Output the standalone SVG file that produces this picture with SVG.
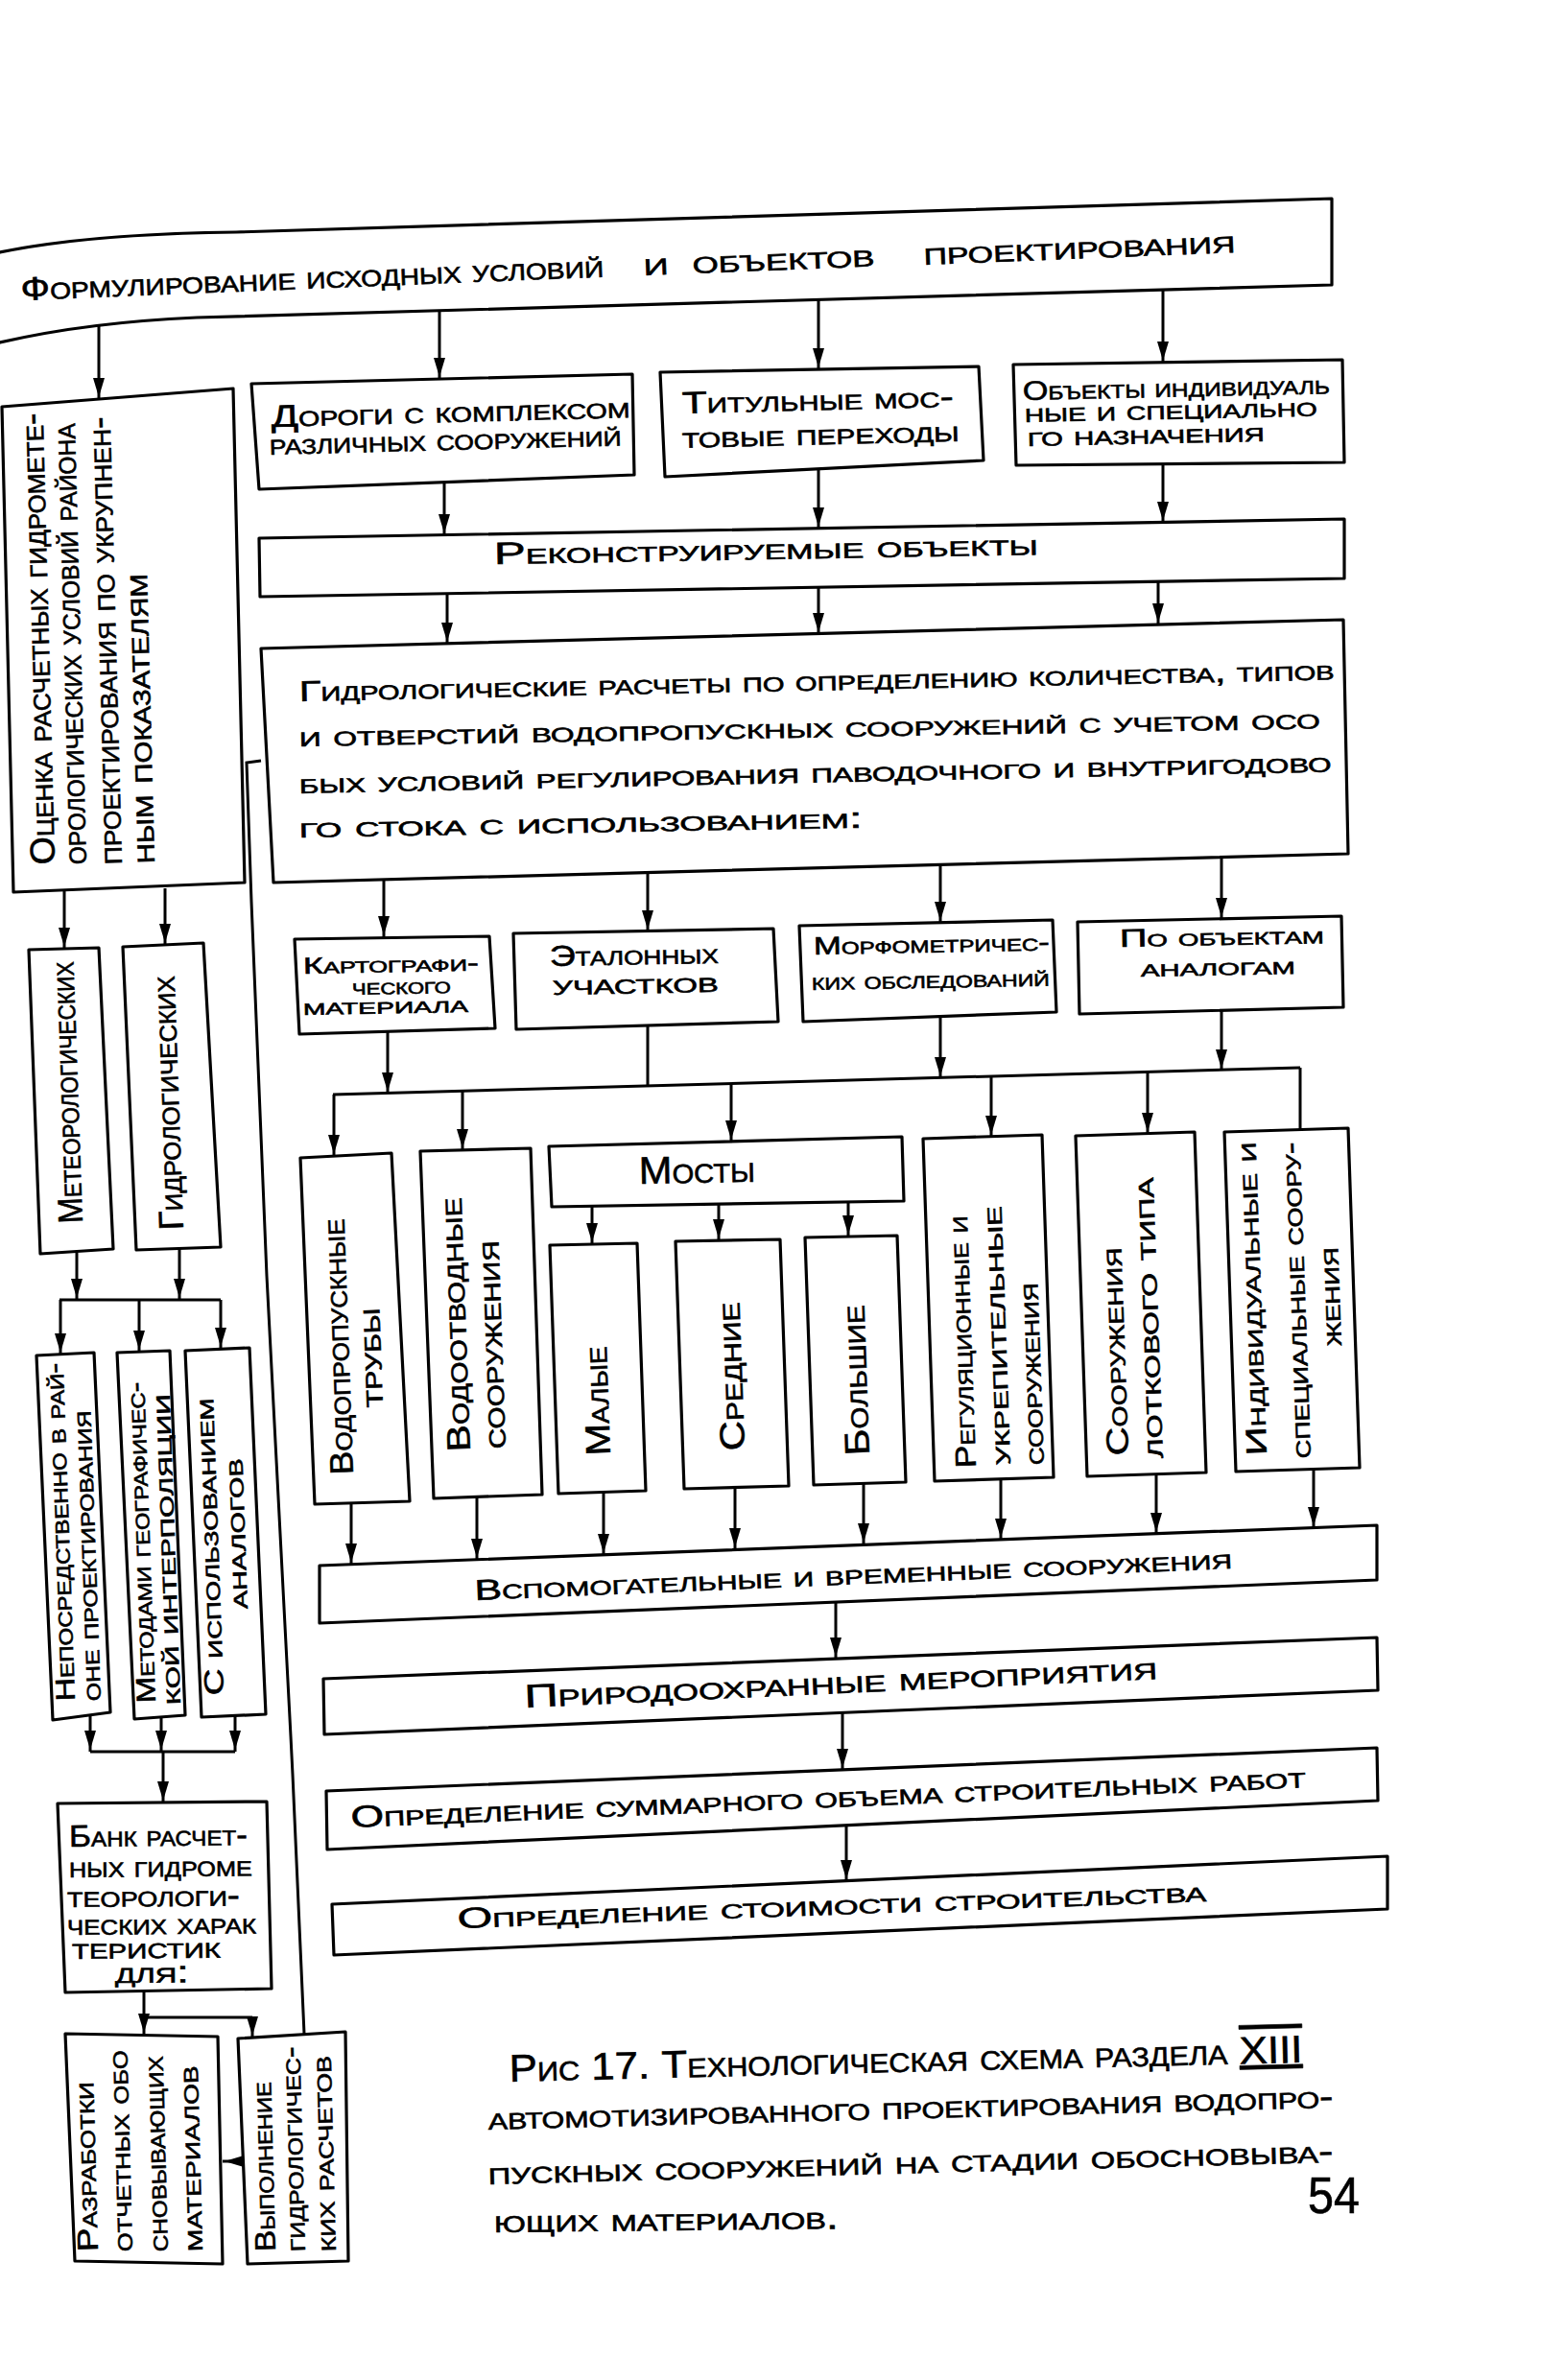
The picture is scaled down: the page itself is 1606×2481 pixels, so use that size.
<svg xmlns="http://www.w3.org/2000/svg" width="1606" height="2481" viewBox="0 0 1606 2481">
<style>
.b{fill:#fff;stroke:#000;stroke-width:3.2;stroke-linejoin:round}
.c{fill:none;stroke:#000;stroke-width:3}
.a{marker-end:url(#ah)}
text{font-family:"Liberation Sans",Arial,sans-serif;font-variant:small-caps;fill:#000;stroke:#000;stroke-width:0.6}
</style>
<defs>
<marker id="ah" viewBox="0 0 20 12" refX="22" refY="6" markerWidth="20" markerHeight="12" markerUnits="userSpaceOnUse" orient="auto"><path d="M0,0 L20,6 L0,12 Z" fill="#000"/></marker>
</defs>
<rect width="1606" height="2481" fill="#fff"/>

<g id="connectors">
<line class="c a" x1="103" y1="340" x2="103" y2="416"/>
<line class="c a" x1="458" y1="324" x2="458" y2="395"/>
<line class="c a" x1="853" y1="312" x2="853" y2="385"/>
<line class="c a" x1="1212" y1="302" x2="1212" y2="378"/>
<line class="c a" x1="463" y1="503" x2="463" y2="558"/>
<line class="c a" x1="853" y1="489" x2="853" y2="551"/>
<line class="c a" x1="1212" y1="483" x2="1212" y2="545"/>
<line class="c a" x1="466" y1="619" x2="466" y2="671"/>
<line class="c a" x1="853" y1="612" x2="853" y2="661"/>
<line class="c a" x1="1207" y1="606" x2="1207" y2="651"/>
<line class="c a" x1="400" y1="917" x2="400" y2="977"/>
<line class="c a" x1="675" y1="910" x2="675" y2="971"/>
<line class="c a" x1="980" y1="901" x2="980" y2="962"/>
<line class="c a" x1="1273" y1="894" x2="1273" y2="958"/>
<line class="c a" x1="404" y1="1075" x2="404" y2="1140"/>
<line class="c" x1="675" y1="1070" x2="675" y2="1132"/>
<line class="c a" x1="980" y1="1061" x2="980" y2="1124"/>
<line class="c a" x1="1273" y1="1054" x2="1273" y2="1116"/>
<line class="c" x1="347" y1="1141" x2="1355" y2="1113"/>
<line class="c a" x1="348" y1="1141" x2="348" y2="1205"/>
<line class="c a" x1="482" y1="1137" x2="482" y2="1199"/>
<line class="c a" x1="762" y1="1129" x2="762" y2="1190"/>
<line class="c a" x1="1033" y1="1122" x2="1033" y2="1185"/>
<line class="c a" x1="1196" y1="1117" x2="1196" y2="1182"/>
<line class="c" x1="1355" y1="1113" x2="1355" y2="1178"/>
<line class="c a" x1="617" y1="1257" x2="617" y2="1297"/>
<line class="c a" x1="749" y1="1255" x2="749" y2="1293"/>
<line class="c a" x1="884" y1="1253" x2="884" y2="1289"/>
<line class="c a" x1="366" y1="1567" x2="366" y2="1631"/>
<line class="c a" x1="497" y1="1560" x2="497" y2="1626"/>
<line class="c a" x1="629" y1="1555" x2="629" y2="1621"/>
<line class="c a" x1="766" y1="1550" x2="766" y2="1615"/>
<line class="c a" x1="900" y1="1546" x2="900" y2="1610"/>
<line class="c a" x1="1043" y1="1541" x2="1043" y2="1605"/>
<line class="c a" x1="1205" y1="1536" x2="1205" y2="1599"/>
<line class="c a" x1="1369" y1="1531" x2="1369" y2="1593"/>
<line class="c a" x1="871" y1="1669" x2="871" y2="1729"/>
<line class="c a" x1="878" y1="1786" x2="878" y2="1845"/>
<line class="c a" x1="882" y1="1903" x2="882" y2="1961"/>
<line class="c a" x1="67" y1="929" x2="67" y2="989"/>
<line class="c a" x1="172" y1="926" x2="172" y2="985"/>
<line class="c a" x1="80" y1="1306" x2="80" y2="1355"/>
<line class="c a" x1="187" y1="1302" x2="187" y2="1355"/>
<line class="c" x1="62" y1="1355" x2="230" y2="1355"/>
<line class="c a" x1="63" y1="1355" x2="63" y2="1412"/>
<line class="c a" x1="145" y1="1355" x2="145" y2="1409"/>
<line class="c a" x1="230" y1="1355" x2="230" y2="1406"/>
<line class="c a" x1="94" y1="1789" x2="94" y2="1826"/>
<line class="c a" x1="168" y1="1791" x2="168" y2="1826"/>
<line class="c a" x1="245" y1="1788" x2="245" y2="1826"/>
<line class="c" x1="94" y1="1826" x2="245" y2="1826"/>
<line class="c a" x1="170" y1="1826" x2="170" y2="1879"/>
<line class="c" x1="150" y1="2076" x2="150" y2="2103"/>
<line class="c" x1="150" y1="2103" x2="263" y2="2103"/>
<line class="c a" x1="150" y1="2103" x2="150" y2="2121"/>
<line class="c a" x1="263" y1="2103" x2="263" y2="2124"/>
<line class="c a" x1="250" y1="2253" x2="232" y2="2253"/>
<polyline class="c" points="272,793 257,795 262,940 278,1330 303,1810 305,1850 317,2120"/>
</g>

<g id="n-top">
<path class="b" d="M -10,266 L 0,263 Q 90,244 246,242 L 1388,207 L 1388,297 L 205,331 Q 90,336 0,357 L -10,360"/>
<text x="22" y="313" font-size="34" textLength="608" lengthAdjust="spacingAndGlyphs" transform="rotate(-2.3 22 313)">Формулирование исходных условий</text>
<text x="671" y="287" font-size="34" textLength="26" lengthAdjust="spacingAndGlyphs" transform="rotate(-2.3 671 287)">и</text>
<text x="722" y="285" font-size="34" textLength="190" lengthAdjust="spacingAndGlyphs" transform="rotate(-2.3 722 285)">объектов</text>
<text x="963" y="276" font-size="34" textLength="325" lengthAdjust="spacingAndGlyphs" transform="rotate(-2.3 963 276)">проектирования</text>
</g>

<g id="n-dorogi">
<polygon class="b" points="262,400 659,390 661,495 270,510"/>
<text x="283" y="445" font-size="32" textLength="374" lengthAdjust="spacingAndGlyphs" transform="rotate(-1.5 283 445)">Дороги с комплексом</text>
<text x="281" y="474" font-size="32" textLength="367" lengthAdjust="spacingAndGlyphs" transform="rotate(-1.5 281 474)">различных сооружений</text>
</g>

<g id="n-titul">
<polygon class="b" points="688,388 1020,382 1025,480 693,497"/>
<text x="711" y="431" font-size="32" textLength="283" lengthAdjust="spacingAndGlyphs" transform="rotate(-1.4 711 431)">Титульные мос-</text>
<text x="711" y="467" font-size="32" textLength="289" lengthAdjust="spacingAndGlyphs" transform="rotate(-1.4 711 467)">товые переходы</text>
</g>

<g id="n-obj">
<polygon class="b" points="1056,380 1399,375 1401,482 1059,485"/>
<text x="1066" y="417" font-size="28" textLength="320" lengthAdjust="spacingAndGlyphs" transform="rotate(-1.2 1066 417)">Объекты индивидуаль</text>
<text x="1068" y="440" font-size="28" textLength="305" lengthAdjust="spacingAndGlyphs" transform="rotate(-1.2 1068 440)">ные и специально</text>
<text x="1071" y="465" font-size="28" textLength="247" lengthAdjust="spacingAndGlyphs" transform="rotate(-1.2 1071 465)">го назначения</text>
</g>

<g id="n-rekon">
<polygon class="b" points="270,561 1401,541 1401,603 271,622"/>
<text x="515" y="588" font-size="32" textLength="567" lengthAdjust="spacingAndGlyphs" transform="rotate(-1 515 588)">Реконструируемые  объекты</text>
</g>

<g id="n-gidro">
<polygon class="b" points="272,676 1400,646 1405,890 285,920"/>
<text x="312" y="731" font-size="30" textLength="1079" lengthAdjust="spacingAndGlyphs" transform="rotate(-1.2 312 731)">Гидрологические расчеты по определению количества, типов</text>
<text x="312" y="778" font-size="30" textLength="1064" lengthAdjust="spacingAndGlyphs" transform="rotate(-1 312 778)">и отверстий водопропускных сооружений с учетом осо</text>
<text x="312" y="827" font-size="30" textLength="1076" lengthAdjust="spacingAndGlyphs" transform="rotate(-1.2 312 827)">бых условий регулирования паводочного и внутригодово</text>
<text x="312" y="873" font-size="30" textLength="587" lengthAdjust="spacingAndGlyphs" transform="rotate(-1 312 873)">го стока с использованием:</text>
</g>

<g id="n-karto">
<polygon class="b" points="307,979 510,976 516,1072 312,1078"/>
<text x="316" y="1015" font-size="24" textLength="183" lengthAdjust="spacingAndGlyphs" transform="rotate(-1 316 1015)">Картографи-</text>
<text x="367" y="1037" font-size="24" textLength="103" lengthAdjust="spacingAndGlyphs" transform="rotate(-1 367 1037)">ческого</text>
<text x="316" y="1058" font-size="24" textLength="172" lengthAdjust="spacingAndGlyphs" transform="rotate(-1 316 1058)">материала</text>
</g>

<g id="n-etal">
<polygon class="b" points="535,973 806,968 811,1065 538,1073"/>
<text x="573" y="1007" font-size="30" textLength="176" lengthAdjust="spacingAndGlyphs" transform="rotate(-1 573 1007)">Эталонных</text>
<text x="576" y="1037" font-size="30" textLength="173" lengthAdjust="spacingAndGlyphs" transform="rotate(-1 576 1037)">участков</text>
</g>

<g id="n-morfo">
<polygon class="b" points="833,965 1097,959 1101,1055 837,1065"/>
<text x="848" y="995" font-size="26" textLength="246" lengthAdjust="spacingAndGlyphs" transform="rotate(-1 848 995)">Морфометричес-</text>
<text x="846" y="1032" font-size="26" textLength="248" lengthAdjust="spacingAndGlyphs" transform="rotate(-1 846 1032)">ких обследований</text>
</g>

<g id="n-analog">
<polygon class="b" points="1123,961 1398,955 1400,1050 1125,1057"/>
<text x="1167" y="987" font-size="26" textLength="213" lengthAdjust="spacingAndGlyphs" transform="rotate(-1 1167 987)">По объектам</text>
<text x="1189" y="1018" font-size="26" textLength="161" lengthAdjust="spacingAndGlyphs" transform="rotate(-1 1189 1018)">аналогам</text>
</g>

<g id="n-vodoprop">
<polygon class="b" points="313,1207 408,1202 427,1565 328,1568"/>
<text x="368" y="1537" font-size="34" textLength="267" lengthAdjust="spacingAndGlyphs" transform="rotate(-92 368 1537)">Водопропускные</text>
<text x="399" y="1467" font-size="34" textLength="104" lengthAdjust="spacingAndGlyphs" transform="rotate(-92 399 1467)">трубы</text>
</g>

<g id="n-vodootv">
<polygon class="b" points="438,1200 553,1197 565,1558 452,1562"/>
<text x="490" y="1513" font-size="34" textLength="265" lengthAdjust="spacingAndGlyphs" transform="rotate(-92 490 1513)">Водоотводные</text>
<text x="527" y="1510" font-size="34" textLength="217" lengthAdjust="spacingAndGlyphs" transform="rotate(-92 527 1510)">сооружения</text>
</g>

<g id="n-mosty">
<polygon class="b" points="572,1195 940,1185 942,1252 575,1258"/>
<text x="666" y="1234" font-size="40" textLength="121" lengthAdjust="spacingAndGlyphs" transform="rotate(-1 666 1234)">Мосты</text>
</g>

<g id="n-malye">
<polygon class="b" points="573,1298 664,1296 673,1554 582,1557"/>
<text x="636" y="1517" font-size="36" textLength="114" lengthAdjust="spacingAndGlyphs" transform="rotate(-92 636 1517)">Малые</text>
</g>

<g id="n-srednie">
<polygon class="b" points="704,1294 813,1292 822,1549 713,1552"/>
<text x="776" y="1512" font-size="36" textLength="155" lengthAdjust="spacingAndGlyphs" transform="rotate(-92 776 1512)">Средние</text>
</g>

<g id="n-bolshie">
<polygon class="b" points="839,1290 935,1288 944,1545 848,1548"/>
<text x="906" y="1517" font-size="36" textLength="157" lengthAdjust="spacingAndGlyphs" transform="rotate(-92 906 1517)">Большие</text>
</g>

<g id="n-regul">
<polygon class="b" points="962,1187 1086,1183 1098,1540 974,1544"/>
<text x="1017" y="1530" font-size="30" textLength="263" lengthAdjust="spacingAndGlyphs" transform="rotate(-92 1017 1530)">Регуляционные и</text>
<text x="1053" y="1527" font-size="30" textLength="270" lengthAdjust="spacingAndGlyphs" transform="rotate(-92 1053 1527)">укрепительные</text>
<text x="1088" y="1527" font-size="30" textLength="190" lengthAdjust="spacingAndGlyphs" transform="rotate(-92 1088 1527)">сооружения</text>
</g>

<g id="n-lotok">
<polygon class="b" points="1121,1184 1245,1180 1257,1535 1133,1539"/>
<text x="1176" y="1517" font-size="32" textLength="217" lengthAdjust="spacingAndGlyphs" transform="rotate(-92 1176 1517)">Сооружения</text>
<text x="1212" y="1520" font-size="32" textLength="293" lengthAdjust="spacingAndGlyphs" transform="rotate(-92 1212 1520)">лоткового типа</text>
</g>

<g id="n-indiv">
<polygon class="b" points="1276,1180 1405,1176 1417,1530 1288,1534"/>
<text x="1320" y="1517" font-size="30" textLength="327" lengthAdjust="spacingAndGlyphs" transform="rotate(-92 1320 1517)">Индивидуальные и</text>
<text x="1366" y="1520" font-size="30" textLength="330" lengthAdjust="spacingAndGlyphs" transform="rotate(-92 1366 1520)">специальные соору-</text>
<text x="1398" y="1403" font-size="30" textLength="103" lengthAdjust="spacingAndGlyphs" transform="rotate(-92 1398 1403)">жения</text>
</g>

<g id="n-vspom">
<polygon class="b" points="333,1632 1435,1590 1435,1647 333,1692"/>
<text x="495" y="1668" font-size="30" textLength="790" lengthAdjust="spacingAndGlyphs" transform="rotate(-2.4 495 1668)">Вспомогательные и временные сооружения</text>
</g>

<g id="n-priroda">
<polygon class="b" points="337,1750 1435,1707 1436,1762 338,1808"/>
<text x="547" y="1780" font-size="34" textLength="660" lengthAdjust="spacingAndGlyphs" transform="rotate(-2.6 547 1780)">Природоохранные мероприятия</text>
</g>

<g id="n-summ">
<polygon class="b" points="340,1867 1435,1822 1436,1877 341,1928"/>
<text x="366" y="1905" font-size="32" textLength="996" lengthAdjust="spacingAndGlyphs" transform="rotate(-2.4 366 1905)">Определение суммарного объема строительных работ</text>
</g>

<g id="n-stoim">
<polygon class="b" points="346,1985 1446,1935 1446,1990 348,2038"/>
<text x="477" y="2010" font-size="30" textLength="781" lengthAdjust="spacingAndGlyphs" transform="rotate(-2.05 477 2010)">Определение стоимости строительства</text>
</g>

<g id="n-ocenka">
<polygon class="b" points="2,424 243,405 255,920 14,930"/>
<text x="57" y="901" font-size="36" textLength="471" lengthAdjust="spacingAndGlyphs" transform="rotate(-91.5 57 901)">Оценка расчетных гидромете-</text>
<text x="90" y="901" font-size="36" textLength="460" lengthAdjust="spacingAndGlyphs" transform="rotate(-91.5 90 901)">орологических условий района</text>
<text x="127" y="901" font-size="36" textLength="467" lengthAdjust="spacingAndGlyphs" transform="rotate(-91.5 127 901)">проектирования по укрупнен-</text>
<text x="161" y="900" font-size="36" textLength="302" lengthAdjust="spacingAndGlyphs" transform="rotate(-91.5 161 900)">ным показателям</text>
</g>

<g id="n-meteo">
<polygon class="b" points="30,990 103,988 118,1302 42,1307"/>
<text x="86" y="1275" font-size="36" textLength="273" lengthAdjust="spacingAndGlyphs" transform="rotate(-92 86 1275)">Метеорологических</text>
</g>

<g id="n-gidrol">
<polygon class="b" points="128,987 212,983 230,1300 142,1303"/>
<text x="191" y="1282" font-size="36" textLength="265" lengthAdjust="spacingAndGlyphs" transform="rotate(-92 191 1282)">Гидрологических</text>
</g>

<g id="n-neposr">
<polygon class="b" points="38,1413 98,1410 115,1785 55,1793"/>
<text x="78" y="1773" font-size="28" textLength="353" lengthAdjust="spacingAndGlyphs" transform="rotate(-92 78 1773)">Непосредственно в рай-</text>
<text x="105" y="1773" font-size="28" textLength="303" lengthAdjust="spacingAndGlyphs" transform="rotate(-92 105 1773)">оне проектирования</text>
</g>

<g id="n-metod">
<polygon class="b" points="122,1410 177,1408 193,1788 140,1792"/>
<text x="162" y="1775" font-size="28" textLength="335" lengthAdjust="spacingAndGlyphs" transform="rotate(-92 162 1775)">Методами географичес-</text>
<text x="188" y="1777" font-size="28" textLength="324" lengthAdjust="spacingAndGlyphs" transform="rotate(-92 188 1777)">кой интерполяции</text>
</g>

<g id="n-analogi">
<polygon class="b" points="193,1408 260,1405 277,1787 210,1790"/>
<text x="233" y="1767" font-size="28" textLength="310" lengthAdjust="spacingAndGlyphs" transform="rotate(-92 233 1767)">С использованием</text>
<text x="258" y="1677" font-size="28" textLength="157" lengthAdjust="spacingAndGlyphs" transform="rotate(-92 258 1677)">аналогов</text>
</g>

<g id="n-bank">
<polygon class="b" points="60,1880 278,1878 283,2073 68,2077"/>
<text x="72" y="1925" font-size="32" textLength="186" lengthAdjust="spacingAndGlyphs" transform="rotate(-0.5 72 1925)">Банк расчет-</text>
<text x="72" y="1957" font-size="32" textLength="191" lengthAdjust="spacingAndGlyphs" transform="rotate(-0.5 72 1957)">ных гидроме</text>
<text x="70" y="1988" font-size="32" textLength="180" lengthAdjust="spacingAndGlyphs" transform="rotate(-0.5 70 1988)">теорологи-</text>
<text x="70" y="2017" font-size="32" textLength="197" lengthAdjust="spacingAndGlyphs" transform="rotate(-0.5 70 2017)">ческих харак</text>
<text x="75" y="2042" font-size="32" textLength="155" lengthAdjust="spacingAndGlyphs" transform="rotate(-0.5 75 2042)">теристик</text>
<text x="120" y="2067" font-size="32" textLength="77" lengthAdjust="spacingAndGlyphs" transform="rotate(-0.5 120 2067)">для:</text>
</g>

<g id="n-razrab">
<polygon class="b" points="68,2120 227,2123 232,2360 78,2357"/>
<text x="102" y="2347" font-size="30" textLength="177" lengthAdjust="spacingAndGlyphs" transform="rotate(-91.5 102 2347)">Разработки</text>
<text x="138" y="2347" font-size="30" textLength="210" lengthAdjust="spacingAndGlyphs" transform="rotate(-91.5 138 2347)">отчетных обо</text>
<text x="175" y="2347" font-size="30" textLength="204" lengthAdjust="spacingAndGlyphs" transform="rotate(-91.5 175 2347)">сновывающих</text>
<text x="211" y="2347" font-size="30" textLength="194" lengthAdjust="spacingAndGlyphs" transform="rotate(-91.5 211 2347)">материалов</text>
</g>

<g id="n-vypoln">
<polygon class="b" points="248,2125 360,2118 363,2357 258,2360"/>
<text x="287" y="2347" font-size="30" textLength="177" lengthAdjust="spacingAndGlyphs" transform="rotate(-91.5 287 2347)">Выполнение</text>
<text x="318" y="2347" font-size="30" textLength="214" lengthAdjust="spacingAndGlyphs" transform="rotate(-91.5 318 2347)">гидрологичес-</text>
<text x="350" y="2347" font-size="30" textLength="204" lengthAdjust="spacingAndGlyphs" transform="rotate(-91.5 350 2347)">ких расчетов</text>
</g>

<g id="caption">
<text x="531" y="2170" font-size="40" textLength="827" lengthAdjust="spacingAndGlyphs" transform="rotate(-1.4 531 2170)">Рис 17. Технологическая схема раздела <tspan text-decoration="overline underline">XIII</tspan></text>
<text x="509" y="2220" font-size="34" textLength="881" lengthAdjust="spacingAndGlyphs" transform="rotate(-1.5 509 2220)">автомотизированного проектирования водопро-</text>
<text x="509" y="2277" font-size="34" textLength="881" lengthAdjust="spacingAndGlyphs" transform="rotate(-1.5 509 2277)">пускных сооружений на стадии обосновыва-</text>
<text x="515" y="2327" font-size="34" textLength="359" lengthAdjust="spacingAndGlyphs" transform="rotate(-0.6 515 2327)">ющих материалов.</text>
<text x="1363" y="2307" font-size="54" textLength="54" lengthAdjust="spacingAndGlyphs">54</text>
</g>
</svg>
